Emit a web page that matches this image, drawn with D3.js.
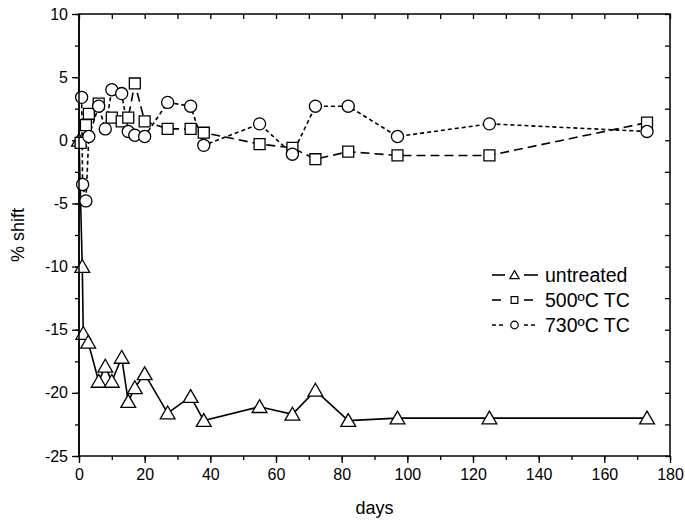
<!DOCTYPE html>
<html>
<head>
<meta charset="utf-8">
<script src="https://cdn.jsdelivr.net/npm/d3@7/dist/d3.min.js"></script>
<style>
  html, body { margin: 0; padding: 0; background: #fff; }
  svg { display: block; font-family: "Liberation Sans", Arial, sans-serif; }
</style>
</head>
<body>
<svg id="chart" width="685" height="521"></svg>
<script>
// ---- data ----
const untreatedDays   = [0, 1, 1.3, 2.8, 6, 8, 10, 13, 15, 17, 20, 27, 34, 38, 55, 65, 72, 82, 97, 125, 173];
const untreatedValues = [0, -10.0, -15.3, -16.0, -19.1, -17.9, -19.1, -17.2, -20.7, -19.6, -18.5, -21.6, -20.3, -22.2, -21.1, -21.7, -19.8, -22.2, -22.0, -22.0, -22.0];

const tc500Days   = [0.5, 2.1, 3, 6, 10, 13, 15, 17, 20, 27, 34, 38, 55, 65, 72, 82, 97, 125, 173];
const tc500Values = [-0.2, 1.2, 2.1, 2.9, 1.8, 1.5, 1.8, 4.5, 1.5, 0.9, 0.9, 0.6, -0.3, -0.6, -1.5, -0.9, -1.2, -1.2, 1.4];

const tc730Days   = [0.8, 1.1, 2.1, 3, 6, 8, 10, 13, 15, 17, 20, 27, 34, 38, 55, 65, 72, 82, 97, 125, 173];
const tc730Values = [3.4, -3.5, -4.8, 0.3, 2.7, 0.9, 4.0, 3.7, 0.7, 0.4, 0.3, 3.0, 2.7, -0.4, 1.3, -1.1, 2.7, 2.7, 0.3, 1.3, 0.7];

const seriesNames = ["untreated", "500ºC TC", "730ºC TC"];
const xTicks = [0, 20, 40, 60, 80, 100, 120, 140, 160, 180];
const yTicks = [10, 5, 0, -5, -10, -15, -20, -25];
const xLabel = "days";
const yLabel = "% shift";

// ---- layout ----
const svg = d3.select("#chart");
const L = 79, R = 670, T = 14, B = 456;
const x = d3.scaleLinear().domain([0, 180]).range([L, R]);
const y = d3.scaleLinear().domain([-25, 10]).range([B, T]);

const series = [
  { name: seriesNames[0], days: untreatedDays, vals: untreatedValues, dash: null, shape: "tri" },
  { name: seriesNames[1], days: tc500Days, vals: tc500Values, dash: "9,5", shape: "sq" },
  { name: seriesNames[2], days: tc730Days, vals: tc730Values, dash: "4,3", shape: "circ" }
];

const symGen = {
  tri: d3.symbol().type(d3.symbolTriangle).size(95),
  sq: d3.symbol().type(d3.symbolSquare).size(120),
  circ: d3.symbol().type(d3.symbolCircle).size(115)
};
const legSym = {
  tri: d3.symbol().type(d3.symbolTriangle).size(38),
  sq: d3.symbol().type(d3.symbolSquare).size(45),
  circ: d3.symbol().type(d3.symbolCircle).size(45)
};

// axes
const minorX = d3.range(0, 181, 10);
const minorY = d3.range(-25, 10.01, 2.5);
const fmt = d => String(d);

const gBottom = svg.append("g").attr("transform", `translate(0,${B})`)
  .call(d3.axisBottom(x).tickValues(minorX).tickSize(4).tickFormat(""));
const gBottomMaj = svg.append("g").attr("transform", `translate(0,${B})`)
  .call(d3.axisBottom(x).tickValues(xTicks).tickSize(7).tickPadding(6).tickFormat(fmt));
const gLeft = svg.append("g").attr("transform", `translate(${L},0)`)
  .call(d3.axisLeft(y).tickValues(minorY).tickSize(4).tickFormat(""));
const gLeftMaj = svg.append("g").attr("transform", `translate(${L},0)`)
  .call(d3.axisLeft(y).tickValues(yTicks).tickSize(7).tickPadding(4).tickFormat(fmt));
const gTop = svg.append("g").attr("transform", `translate(0,${T})`)
  .call(d3.axisBottom(x).tickValues(minorX).tickSize(5).tickFormat(""));
const gRight = svg.append("g").attr("transform", `translate(${R},0)`)
  .call(d3.axisLeft(y).tickValues(minorY).tickSize(5).tickFormat(""));

[gBottom, gBottomMaj, gLeft, gLeftMaj, gTop, gRight].forEach(g => {
  g.select(".domain").remove();
  g.selectAll("line").attr("stroke", "#000").attr("stroke-width", 1.3);
  g.selectAll("text").attr("fill", "#000").style("font-size", "16px")
    .style("font-family", "'Liberation Sans', Arial, sans-serif");
});

svg.append("rect").attr("x", L).attr("y", T).attr("width", R - L).attr("height", B - T)
  .attr("fill", "none").attr("stroke", "#000").attr("stroke-width", 1.5);

// series
const line = d3.line().x(d => x(d[0])).y(d => y(d[1]));
series.forEach(s => {
  const pts = s.days.map((d, i) => [d, s.vals[i]]);
  svg.append("path").datum(pts).attr("d", line)
    .attr("fill", "none").attr("stroke", "#000").attr("stroke-width", 1.6)
    .attr("stroke-dasharray", s.dash);
});
series.forEach(s => {
  const pts = s.days.map((d, i) => [d, s.vals[i]]);
  const dy = s.shape === "tri" ? 1.5 : 0;
  svg.append("g").selectAll("path").data(pts).join("path")
    .attr("d", symGen[s.shape])
    .attr("transform", d => `translate(${x(d[0])},${y(d[1]) + dy})`)
    .attr("fill", "#fff").attr("stroke", "#000").attr("stroke-width", 1.3);
});

svg.append("line").attr("x1", L).attr("x2", L).attr("y1", T).attr("y2", B)
  .attr("stroke", "#000").attr("stroke-width", 1.5);

// legend
const lg = svg.append("g");
series.forEach((s, i) => {
  const yy = 275 + i * 25;
  lg.append("line").attr("x1", 492).attr("x2", 505).attr("y1", yy).attr("y2", yy)
    .attr("stroke", "#000").attr("stroke-width", 1.6).attr("stroke-dasharray", s.dash);
  lg.append("line").attr("x1", 524).attr("x2", 538).attr("y1", yy).attr("y2", yy)
    .attr("stroke", "#000").attr("stroke-width", 1.6).attr("stroke-dasharray", s.dash);
  lg.append("path").attr("d", legSym[s.shape])
    .attr("transform", `translate(514.5,${yy + (s.shape === "tri" ? 1 : 0)})`)
    .attr("fill", "#fff").attr("stroke", "#000").attr("stroke-width", 1.2);
  lg.append("text").attr("x", 545).attr("y", yy).attr("dy", "0.36em")
    .style("font-size", "19.5px").attr("fill", "#000").text(s.name);
});

// axis titles
svg.append("text").attr("x", (L + R) / 2).attr("y", 514).attr("text-anchor", "middle")
  .style("font-size", "18px").text(xLabel);
svg.append("text").attr("transform", `translate(24,${(T + B) / 2}) rotate(-90)`)
  .attr("text-anchor", "middle").style("font-size", "18px").text(yLabel);
</script>
</body>
</html>
